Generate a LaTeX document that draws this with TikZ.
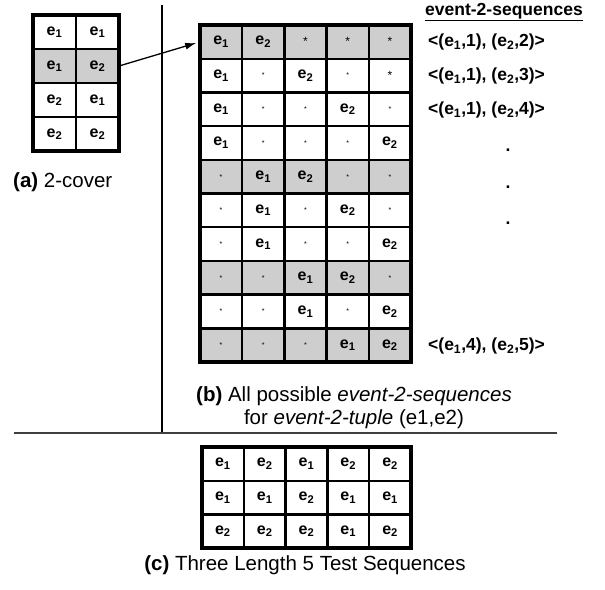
\documentclass[tikz,border=0pt]{standalone}
\usepackage{fontspec}
\setmainfont{Liberation Sans}
\usetikzlibrary{arrows.meta}
\definecolor{shadegray}{RGB}{206,206,206}
\newcommand\ea{\textbf{e\textsubscript{1}}}
\newcommand\eb{\textbf{e\textsubscript{2}}}
\newcommand\starbig{{\fontsize{12}{12}\selectfont *}}
\newcommand\starsm{{\fontsize{7}{7}\selectfont *}}
\begin{document}
\begin{tikzpicture}[x=1pt,y=-1pt,
  cell/.style={draw, line width=2.4pt, inner sep=0pt, outer sep=0pt,
    minimum width=42.2pt, minimum height=33.7pt, font=\fontsize{16}{16}\selectfont},
  acell/.style={cell, minimum width=43pt, minimum height=34pt},
  ccell/.style={cell, minimum width=41.8pt, minimum height=33.7pt},
  outerline/.style={draw, line width=3.4pt},
  lbl/.style={anchor=west, inner sep=0pt, font=\fontsize{17.5}{17.5}\selectfont\bfseries},
  captext/.style={font=\fontsize{20.5}{23}\selectfont, inner sep=0pt}]
\useasboundingbox (0,0) rectangle (605,589);

% ---- (a) 2-cover ----
\fill[shadegray] (33,49) rectangle (119,83);
\foreach \rw [count=\r] in {{\ea,\ea},{\ea,\eb},{\eb,\ea},{\eb,\eb}}{
  \foreach \c [count=\k] in \rw {
    \node[acell] (a-\r-\k) at ({33+43*(\k-0.5)},{15+34*(\r-0.5)}) {\c};
  }}
\draw[outerline] (a-1-1.north west) rectangle (a-4-2.south east);
\node[captext, anchor=west] (capa) at (13,182) {\textbf{(a)} 2-cover};

% ---- separators ----
\coordinate (vt) at (162,5);
\coordinate (vb) at (162,433);
\coordinate (hl) at (14,433);
\coordinate (hr) at (557,433);
\draw[line width=2pt] (vt) -- (vb);
\draw[line width=1.6pt, black!75] (hl) -- (hr);

% ---- (b) all sequences ----
\foreach \r in {1,5,8,10}{
  \fill[shadegray] (200,{25+33.7*(\r-1)}) rectangle (411,{25+33.7*\r});
}
\foreach \rw [count=\r] in {
  {\ea,\eb,\starbig,\starbig,\starbig},
  {\ea,\starsm,\eb,\starsm,\starbig},
  {\ea,\starsm,\starsm,\eb,\starsm},
  {\ea,\starsm,\starsm,\starsm,\eb},
  {\starsm,\ea,\eb,\starsm,\starsm},
  {\starsm,\ea,\starsm,\eb,\starsm},
  {\starsm,\ea,\starsm,\starsm,\eb},
  {\starsm,\starsm,\ea,\eb,\starsm},
  {\starsm,\starsm,\ea,\starsm,\eb},
  {\starsm,\starsm,\starsm,\ea,\eb}}{
  \foreach \c [count=\k] in \rw {
    \node[cell] (b-\r-\k) at ({200+42.2*(\k-0.5)},{25+33.7*(\r-0.5)}) {\c};
  }}
\draw[outerline] (b-1-1.north west) rectangle (b-10-5.south east);

\draw[line width=1.3pt, -{Latex[length=11pt,width=7pt]}, shorten >=4pt]
  (a-2-2.east) -- (b-1-1.west);

\node[lbl, anchor=west] (hd) at (425,12) {\underline{event-2-sequences}};
\node[lbl] (l1) at (428,42) {<(e\textsubscript{1},1), (e\textsubscript{2},2)>};
\node[lbl] (l2) at (428,76) {<(e\textsubscript{1},1), (e\textsubscript{2},3)>};
\node[lbl] (l3) at (428,110) {<(e\textsubscript{1},1), (e\textsubscript{2},4)>};
\node[lbl, anchor=center] (d1) at (508,150) {.};
\node[lbl, anchor=center] (d2) at (508,187) {.};
\node[lbl, anchor=center] (d3) at (508,223) {.};
\node[lbl] (l4) at (428,346) {<(e\textsubscript{1},4), (e\textsubscript{2},5)>};

\node[captext, align=center] (capb) at (354,408)
  {\textbf{(b)} All possible \textit{event-2-sequences}\\ for \textit{event-2-tuple} (e1,e2)};

% ---- (c) test sequences ----
\foreach \rw [count=\r] in {
  {\ea,\eb,\ea,\eb,\eb},
  {\ea,\ea,\eb,\ea,\ea},
  {\eb,\eb,\eb,\ea,\eb}}{
  \foreach \c [count=\k] in \rw {
    \node[ccell] (c-\r-\k) at ({202+41.8*(\k-0.5)},{447+33.7*(\r-0.5)}) {\c};
  }}
\draw[outerline] (c-1-1.north west) rectangle (c-3-5.south east);
\node[captext] (capc) at (305,565) {\textbf{(c)} Three Length 5 Test Sequences};
\end{tikzpicture}
\end{document}
